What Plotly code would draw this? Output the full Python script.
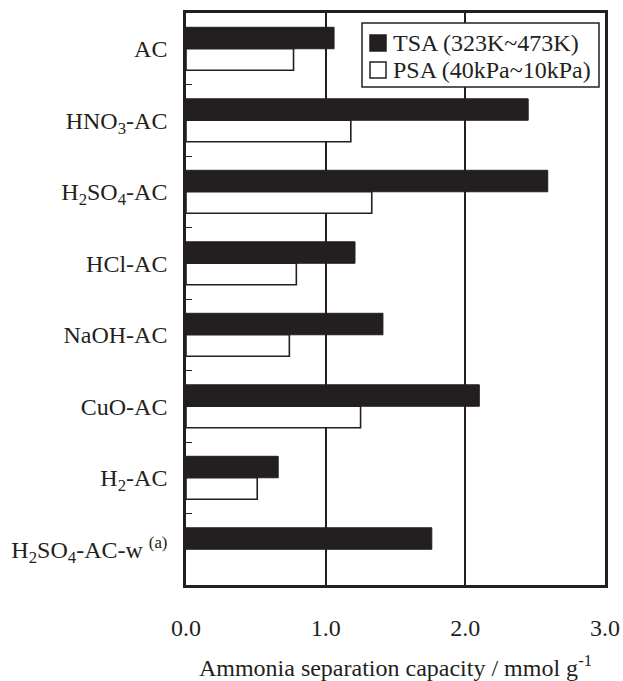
import plotly.graph_objects as go

# Adsorbent samples (top to bottom) and their ammonia separation capacities
categories = ["AC", "HNO3-AC", "H2SO4-AC", "HCl-AC", "NaOH-AC", "CuO-AC", "H2-AC", "H2SO4-AC-w"]
category_labels = [
    "AC",
    "HNO<sub>3</sub>-AC",
    "H<sub>2</sub>SO<sub>4</sub>-AC",
    "HCl-AC",
    "NaOH-AC",
    "CuO-AC",
    "H<sub>2</sub>-AC",
    "H<sub>2</sub>SO<sub>4</sub>-AC-w <sup>(a)</sup>",
]
tsa_values = [1.06, 2.45, 2.59, 1.21, 1.41, 2.10, 0.66, 1.76]
psa_values = [0.77, 1.18, 1.33, 0.79, 0.74, 1.25, 0.51, None]
series_names = ["TSA (323K~473K)", "PSA (40kPa~10kPa)"]

x_ticks = [0, 1, 2, 3]
x_tick_labels = ["0.0", "1.0", "2.0", "3.0"]

INK = "#231f20"
FONT = "Liberation Serif, Times New Roman, serif"

W, H = 623, 681
M_L, M_R, M_T, M_B = 186, 18, 13, 96
PLOT_W = W - M_L - M_R
PLOT_H = H - M_T - M_B


def px_x(p):
    """Pixel column -> x-domain fraction."""
    return (p - M_L) / PLOT_W


def px_y(p):
    """Pixel row -> y-domain fraction."""
    return 1 - (p - M_T) / PLOT_H


fig = go.Figure()
fig.add_trace(go.Bar(
    y=categories, x=tsa_values, orientation="h",
    name=series_names[0], showlegend=False,
    marker=dict(color=INK, line=dict(color=INK, width=1)),
))
fig.add_trace(go.Bar(
    y=categories, x=psa_values, orientation="h",
    name=series_names[1], showlegend=False,
    marker=dict(color="white", line=dict(color=INK, width=1.6)),
))

# Boxed key in the upper-right corner
fig.add_shape(type="rect", xref="x domain", yref="y domain",
              x0=px_x(362), x1=px_x(599), y0=px_y(87), y1=px_y(23),
              line=dict(color=INK, width=1.5), fillcolor="white", layer="above")
key_rows = [(43, INK, INK), (70, "white", INK)]
for (row, fill, edge), name in zip(key_rows, series_names):
    fig.add_shape(type="rect", xref="x domain", yref="y domain",
                  x0=px_x(370), x1=px_x(386), y0=px_y(row + 8), y1=px_y(row - 8),
                  line=dict(color=edge, width=1.5), fillcolor=fill, layer="above")
    fig.add_annotation(xref="x domain", yref="y domain",
                       x=px_x(391), y=px_y(row), xanchor="left", yanchor="middle",
                       text=name, showarrow=False,
                       font=dict(family=FONT, size=24, color=INK))

fig.update_layout(
    width=W, height=H,
    margin=dict(l=M_L, r=M_R, t=M_T, b=M_B),
    paper_bgcolor="white", plot_bgcolor="white",
    barmode="group", bargap=0.4, bargroupgap=0.0,
    font=dict(family=FONT, size=24, color=INK),
    showlegend=False,
)

fig.update_xaxes(
    range=[0, 3], tickvals=x_ticks, ticktext=x_tick_labels,
    showgrid=True, gridcolor=INK, gridwidth=2,
    showline=True, linecolor=INK, linewidth=2.5, mirror=True,
    ticks="", ticklabelstandoff=19, zeroline=False, automargin=False,
    title=dict(text="Ammonia separation capacity / mmol g<sup>-1</sup>",
               font=dict(family=FONT, size=24, color=INK), standoff=24),
)
fig.update_yaxes(
    categoryorder="array", categoryarray=categories,
    tickvals=categories, ticktext=category_labels,
    autorange="reversed", automargin=False,
    showline=True, linecolor=INK, linewidth=2.5, mirror=True,
    ticks="inside", tickson="boundaries", ticklen=6, tickwidth=1, tickcolor=INK,
    ticklabelstandoff=11, showgrid=False,
)

fig.write_html("out.html")
